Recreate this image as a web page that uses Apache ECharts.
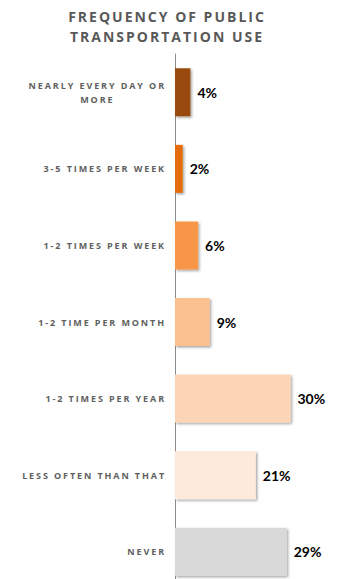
<!DOCTYPE html>
<html>
<head>
<meta charset="utf-8">
<script src="https://cdn.jsdelivr.net/npm/echarts@6/dist/echarts.min.js"></script>
<style>
html,body{margin:0;padding:0;background:#fff;}
#chart{width:341px;height:579px;}
</style>
</head>
<body>
<div id="chart"></div>
<script>
const titleText = 'FREQUENCY OF PUBLIC\nTRANSPORTATION USE';
const categories = [
  'NEARLY EVERY DAY OR\nMORE',
  '3-5 TIMES PER WEEK',
  '1-2 TIMES PER WEEK',
  '1-2 TIME PER MONTH',
  '1-2 TIMES PER YEAR',
  'LESS OFTEN THAN THAT',
  'NEVER'
];
const values = [4, 2, 6, 9, 30, 21, 29];
const barColors = ['#984807', '#E46C0A', '#F79646', '#FAC090', '#FBD5B5', '#FDEADA', '#D9D9D9'];

const chart = echarts.init(document.getElementById('chart'), null, {renderer: 'svg'});
chart.setOption({
  animation: false,
  title: {
    text: titleText,
    left: 162,
    top: 1,
    textAlign: 'center',
    textStyle: {fontFamily: 'Open Sans', fontWeight: 'bold', fontSize: 14, lineHeight: 20, color: '#595959'}
  },
  grid: {left: 175, top: 54, width: 154, height: 536, containLabel: false, outerBoundsMode: 'none'},
  xAxis: {
    type: 'value', min: 0, max: 40, show: false
  },
  yAxis: {
    type: 'category', inverse: true, data: categories,
    axisLine: {show: true, lineStyle: {color: '#8c8c8c', width: 1}},
    axisTick: {show: false},
    axisLabel: {
      margin: 9, fontFamily: 'Open Sans', fontWeight: 'bold', fontSize: 9, lineHeight: 14,
      color: '#606060', align: 'right'
    }
  },
  series: [{
    type: 'bar',
    data: values.map((v, i) => ({value: v, itemStyle: {color: barColors[i]}})),
    barWidth: 48,
    itemStyle: {shadowColor: 'rgba(0,0,0,0.35)', shadowBlur: 2, shadowOffsetX: 1.5, shadowOffsetY: 1.5},
    label: {
      show: true, position: 'right', distance: 7,
      formatter: '{c}%',
      fontFamily: 'Lato', fontWeight: 'bold', fontSize: 14, color: '#000'
    }
  }]
});

function applySpacing() {
  const texts = Array.from(chart.getDom().querySelectorAll('text'));
  let firstLine = null, secondLine = null;
  const [l1, l2] = categories[0].split('\n');
  texts.forEach(t => {
    const s = (t.textContent || '').trim();
    if (/%$/.test(s)) return;
    const isTitle = titleText.split('\n').indexOf(s) >= 0;
    t.setAttribute('letter-spacing', isTitle ? '2' : '1.9');
    if (s === l1) firstLine = t;
    if (s === l2) secondLine = t;
  });
  if (firstLine && secondLine) {
    const bb = firstLine.getBBox();
    const cx = bb.x + bb.width / 2;
    const bb2 = secondLine.getBBox();
    const shift = cx - (bb2.x + bb2.width / 2);
    const tx = parseFloat(secondLine.getAttribute('x') || '0');
    secondLine.setAttribute('x', String(tx + shift));
  }
}
applySpacing();
</script>
</body>
</html>
